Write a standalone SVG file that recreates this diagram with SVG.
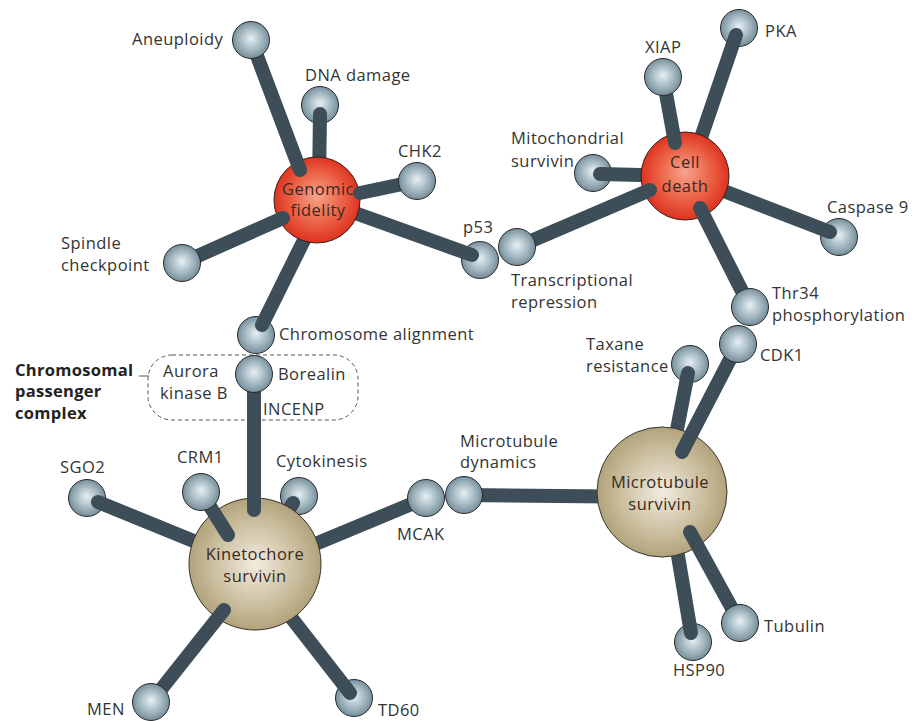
<svg xmlns="http://www.w3.org/2000/svg" width="923" height="721" viewBox="0 0 923 721">
  <defs>
    <radialGradient id="gBall" cx="0.5" cy="0.5" r="0.55" fx="0.5" fy="0.45">
      <stop offset="0" stop-color="#e6f0f4"/>
      <stop offset="0.55" stop-color="#a3b7c0"/>
      <stop offset="1" stop-color="#6b8490"/>
    </radialGradient>
    <radialGradient id="gRed" cx="0.5" cy="0.5" r="0.55" fx="0.5" fy="0.45">
      <stop offset="0" stop-color="#f6a48c"/>
      <stop offset="0.6" stop-color="#ea5a3e"/>
      <stop offset="1" stop-color="#d9281a"/>
    </radialGradient>
    <radialGradient id="gTan" cx="0.5" cy="0.5" r="0.55" fx="0.5" fy="0.5">
      <stop offset="0" stop-color="#f1ece0"/>
      <stop offset="0.6" stop-color="#c9bd9c"/>
      <stop offset="1" stop-color="#a99b72"/>
    </radialGradient>
  </defs>
  <style>
    .ball { fill: url(#gBall); stroke: #262a2c; stroke-width: 1; }
    .hubR { fill: url(#gRed); stroke: #3c1c14; stroke-width: 1; }
    .hubT { fill: url(#gTan); stroke: #3a3428; stroke-width: 1; }
    .bar { stroke: #3d4e58; stroke-width: 14; stroke-linecap: round; fill: none; }
    text { font-family: "Open Sans", "Liberation Sans", sans-serif; font-size: 16.5px; letter-spacing: 0.45px; fill: #333333; }
    .hubtxt { text-anchor: middle; fill: #3a2a22; }
    .bold { font-weight: bold; fill: #222222; letter-spacing: 0.3px; }
    .box { fill: none; stroke: #555555; stroke-width: 1; stroke-dasharray: 4 3; }
  </style>

  <rect width="923" height="721" fill="#ffffff"/>

  <!-- passenger complex outline -->
  <g id="passenger-complex">
    <rect class="box" x="148" y="355" width="210" height="65" rx="24"/>
    <line x1="139" y1="376" x2="149" y2="376" stroke="#555555" stroke-width="1"/>
    <text class="bold" x="15" y="376">Chromosomal</text>
    <text class="bold" x="15" y="397">passenger</text>
    <text class="bold" x="15" y="419">complex</text>
    <text x="163" y="377">Aurora</text>
    <text x="160" y="399">kinase B</text>
    <text x="263" y="415">INCENP</text>
  </g>

  <!-- balls lying beneath their links -->
  <g id="n-dna"><circle class="ball" cx="320" cy="105" r="18.5"/><text x="305" y="81">DNA damage</text></g>
  <g id="n-p53"><circle class="ball" cx="480" cy="260" r="18.5"/><text x="463" y="233">p53</text></g>
  <g id="n-align"><circle class="ball" cx="256" cy="335" r="18.5"/><text x="279" y="340">Chromosome alignment</text></g>
  <g id="n-pka"><circle class="ball" cx="739" cy="28" r="18.5"/><text x="765" y="37">PKA</text></g>
  <g id="n-mito"><circle class="ball" cx="593" cy="173" r="18.5"/><text x="511" y="144">Mitochondrial</text><text x="511" y="167">survivin</text></g>
  <g id="n-casp"><circle class="ball" cx="839" cy="237" r="18.5"/><text x="827" y="213">Caspase 9</text></g>
  <g id="n-taxane"><circle class="ball" cx="690" cy="364" r="18.5"/><text x="586" y="350">Taxane</text><text x="586" y="372">resistance</text></g>
  <g id="n-sgo2"><circle class="ball" cx="87" cy="498" r="18.5"/><text x="60" y="473">SGO2</text></g>
  <g id="n-cyto"><circle class="ball" cx="299" cy="496" r="18.5"/><text x="276" y="467">Cytokinesis</text></g>
  <g id="n-td60"><circle class="ball" cx="354" cy="698" r="18.5"/><text x="378" y="716">TD60</text></g>
  <g id="n-hsp90"><circle class="ball" cx="693" cy="642" r="18.5"/><text x="673" y="676">HSP90</text></g>

  <!-- links passing under the hub circles -->
  <g id="links-back">
    <line class="bar" x1="320" y1="114" x2="319" y2="182"/>
    <line class="bar" x1="472" y1="255" x2="330" y2="204"/>
    <line class="bar" x1="262" y1="325" x2="309" y2="230"/>
    <line class="bar" x1="736" y1="35" x2="690" y2="170"/>
    <line class="bar" x1="600" y1="174" x2="680" y2="176"/>
    <line class="bar" x1="830" y1="232" x2="690" y2="178"/>
    <line class="bar" x1="98" y1="502" x2="250" y2="564"/>
    <line class="bar" x1="293" y1="503" x2="270" y2="540"/>
    <line class="bar" x1="426" y1="498" x2="260" y2="567"/>
    <line class="bar" x1="350" y1="693" x2="258" y2="575"/>
    <line class="bar" x1="465" y1="495" x2="660" y2="497"/>
    <line class="bar" x1="688" y1="373" x2="671" y2="460"/>
    <line class="bar" x1="691" y1="633" x2="672" y2="520"/>
  </g>

  <!-- hubs -->
  <g id="n-genomic">
    <circle class="hubR" cx="317" cy="200" r="43"/>
    <text class="hubtxt" x="318" y="195">Genomic</text>
    <text class="hubtxt" x="318" y="216">fidelity</text>
  </g>
  <g id="n-celldeath">
    <circle class="hubR" cx="685" cy="176" r="44"/>
    <text class="hubtxt" x="685" y="168">Cell</text>
    <text class="hubtxt" x="685" y="192">death</text>
  </g>
  <g id="n-kinetochore">
    <circle class="hubT" cx="255" cy="564" r="66"/>
    <text class="hubtxt" x="255" y="560">Kinetochore</text>
    <text class="hubtxt" x="255" y="582">survivin</text>
  </g>
  <g id="n-microtubule">
    <circle class="hubT" cx="662" cy="492" r="65"/>
    <text class="hubtxt" x="660" y="488">Microtubule</text>
    <text class="hubtxt" x="660" y="510">survivin</text>
  </g>

  <!-- links lying over the hub circles -->
  <g id="links-front">
    <line class="bar" x1="251" y1="40" x2="300" y2="170"/>
    <line class="bar" x1="360" y1="193" x2="417" y2="181"/>
    <line class="bar" x1="283" y1="218" x2="182" y2="263"/>
    <line class="bar" x1="254" y1="374" x2="254" y2="510"/>
    <line class="bar" x1="663" y1="77" x2="675" y2="143"/>
    <line class="bar" x1="517" y1="247" x2="650" y2="190"/>
    <line class="bar" x1="700" y1="208" x2="750" y2="307"/>
    <line class="bar" x1="201" y1="492" x2="228" y2="535"/>
    <line class="bar" x1="151" y1="702" x2="224" y2="610"/>
    <line class="bar" x1="738" y1="344" x2="682" y2="452"/>
    <line class="bar" x1="690" y1="532" x2="740" y2="623"/>
  </g>

  <!-- balls resting on top of their links -->
  <g id="n-aneuploidy"><circle class="ball" cx="251" cy="40" r="18.5"/><text x="132" y="45">Aneuploidy</text></g>
  <g id="n-chk2"><circle class="ball" cx="417" cy="181" r="18.5"/><text x="398" y="157">CHK2</text></g>
  <g id="n-transcr"><circle class="ball" cx="517" cy="247" r="18.5"/><text x="511" y="286">Transcriptional</text><text x="511" y="308">repression</text></g>
  <g id="n-spindle"><circle class="ball" cx="182" cy="263" r="18.5"/><text x="61" y="249">Spindle</text><text x="61" y="271">checkpoint</text></g>
  <g id="n-borealin"><circle class="ball" cx="254" cy="374" r="18.5"/><text x="278" y="380">Borealin</text></g>
  <g id="n-xiap"><circle class="ball" cx="663" cy="77" r="18.5"/><text x="645" y="53">XIAP</text></g>
  <g id="n-thr34"><circle class="ball" cx="750" cy="307" r="18.5"/><text x="772" y="299">Thr34</text><text x="772" y="321">phosphorylation</text></g>
  <g id="n-cdk1"><circle class="ball" cx="738" cy="344" r="18.5"/><text x="760" y="361">CDK1</text></g>
  <g id="n-crm1"><circle class="ball" cx="201" cy="492" r="18.5"/><text x="177" y="463">CRM1</text></g>
  <g id="n-mcak"><circle class="ball" cx="426" cy="498" r="18.5"/><text x="397" y="540">MCAK</text></g>
  <g id="n-mtdyn"><circle class="ball" cx="464" cy="495" r="18.5"/><text x="460" y="447">Microtubule</text><text x="460" y="468">dynamics</text></g>
  <g id="n-men"><circle class="ball" cx="151" cy="702" r="18.5"/><text x="87" y="715">MEN</text></g>
  <g id="n-tubulin"><circle class="ball" cx="740" cy="623" r="18.5"/><text x="764" y="632">Tubulin</text></g>
</svg>
